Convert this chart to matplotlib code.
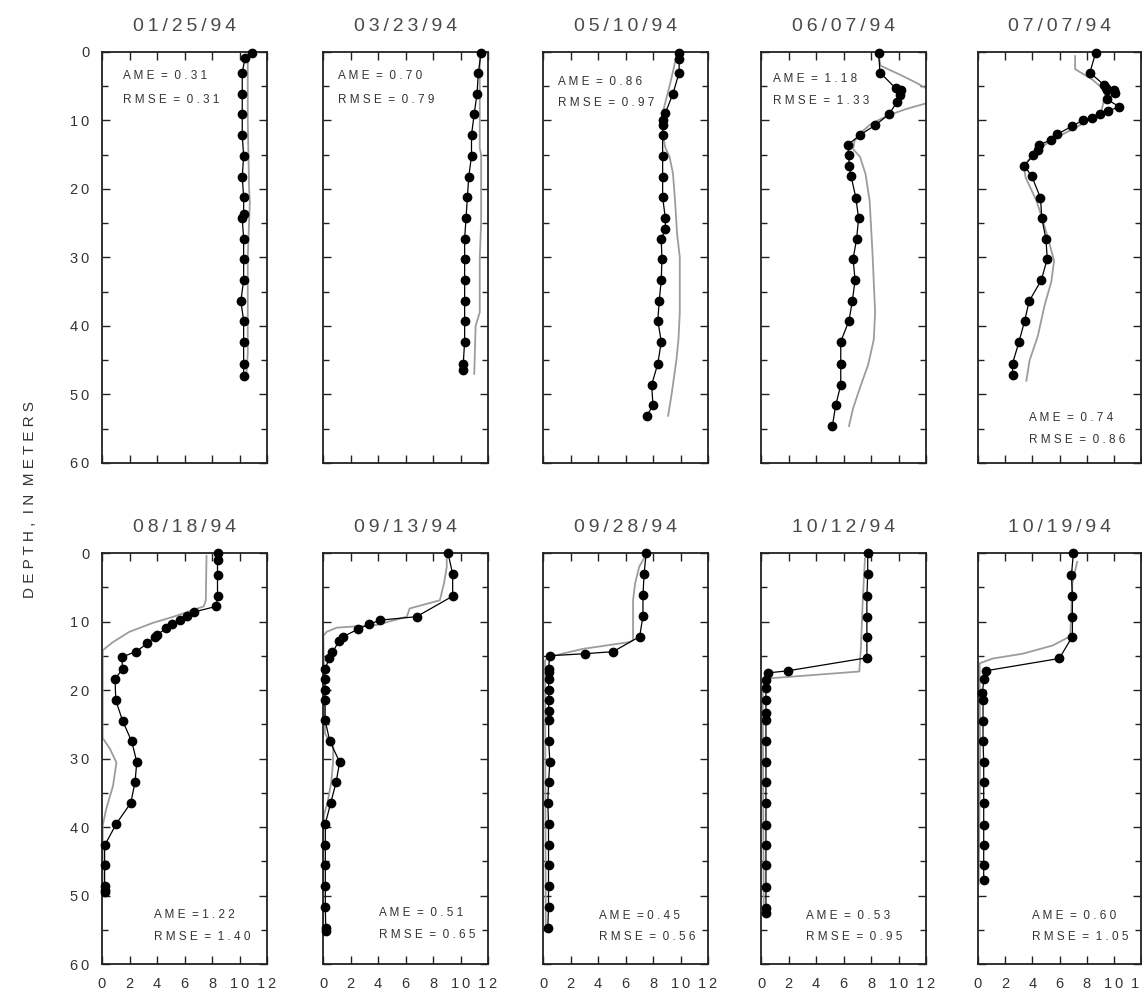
import matplotlib
matplotlib.use("Agg")
import matplotlib.pyplot as plt
import matplotlib.transforms as mtransforms
from matplotlib import font_manager

# Sampling dates, one panel each
DATES = ["01/25/94", "03/23/94", "05/10/94", "06/07/94", "07/07/94",
         "08/18/94", "09/13/94", "09/28/94", "10/12/94", "10/19/94"]
AME = [0.31, 0.70, 0.86, 1.18, 0.74, 1.22, 0.51, 0.45, 0.53, 0.60]
RMSE = [0.31, 0.79, 0.97, 1.33, 0.86, 1.40, 0.65, 0.56, 0.95, 1.05]
AME_SEP = [" = ", " = ", " = ", " = ", " = ", " =", " = ", " =", " = ", " = "]

# Measured profiles (depth m, temperature deg C)
OBS_0125_D = [0.1, 0.9, 3.0, 6.2, 9.0, 12.1, 15.2, 18.2, 21.2, 23.6, 24.3, 27.3,
              30.2, 33.3, 36.4, 39.2, 42.3, 45.5, 47.3]
OBS_0125_T = [10.9, 10.4, 10.2, 10.2, 10.2, 10.2, 10.3, 10.2, 10.3, 10.3, 10.2, 10.3,
              10.3, 10.3, 10.1, 10.3, 10.3, 10.3, 10.3]
OBS_0323_D = [0.1, 3.0, 6.1, 9.0, 12.1, 15.2, 18.2, 21.2, 24.3, 27.3, 30.2, 33.3,
              36.4, 39.2, 42.3, 45.5, 46.4]
OBS_0323_T = [11.5, 11.3, 11.2, 11.0, 10.8, 10.8, 10.6, 10.5, 10.4, 10.3, 10.3, 10.3,
              10.3, 10.3, 10.3, 10.2, 10.2]
OBS_0510_D = [0.1, 1.0, 3.0, 6.1, 8.9, 9.9, 10.6, 12.1, 15.2, 18.2, 21.2, 24.3, 25.9,
              27.3, 30.2, 33.3, 36.4, 39.2, 42.3, 45.5, 48.6, 51.6, 53.1]
OBS_0510_T = [9.9, 9.9, 9.9, 9.45, 8.9, 8.7, 8.7, 8.7, 8.7, 8.7, 8.7, 8.9, 8.9,
              8.6, 8.65, 8.6, 8.45, 8.35, 8.6, 8.35, 7.9, 8.0, 7.55]
OBS_0607_D = [0.2, 3.0, 5.3, 5.6, 6.3, 7.3, 9.1, 10.7, 12.1, 13.6, 15.1, 16.6, 18.1,
              21.3, 24.3, 27.3, 30.2, 33.3, 36.4, 39.2, 42.3, 45.5, 48.6, 51.6, 54.6]
OBS_0607_T = [8.56, 8.65, 9.8, 10.2, 10.1, 9.9, 9.3, 8.3, 7.2, 6.3, 6.4, 6.4, 6.55,
              6.9, 7.1, 6.95, 6.7, 6.84, 6.64, 6.4, 5.8, 5.8, 5.8, 5.43, 5.19]
OBS_0707_D = [0.1, 3.0, 4.8, 5.2, 5.6, 5.6, 6.0, 6.9, 8.0, 8.6, 9.1, 9.7, 10.0, 10.8,
              12.0, 12.8, 13.6, 14.3, 15.1, 16.6, 18.1, 21.3, 24.3, 27.3, 30.2, 33.3,
              36.4, 39.2, 42.3, 45.5, 47.2]
OBS_0707_T = [8.66, 8.24, 9.27, 9.4, 9.5, 10.0, 10.07, 9.5, 10.4, 9.6, 9.0, 8.37, 7.7,
              6.95, 5.85, 5.37, 4.5, 4.4, 4.07, 3.4, 3.95, 4.6, 4.7, 5.0, 5.1, 4.66,
              3.76, 3.44, 3.02, 2.54, 2.54]
OBS_0818_D = [0.05, 1.0, 3.2, 6.3, 7.8, 8.6, 9.2, 9.8, 10.4, 11.0, 12.0, 12.2, 13.2,
              14.4, 15.2, 16.9, 18.4, 21.5, 24.5, 27.5, 30.5, 33.5, 36.5, 39.5, 42.7,
              45.6, 48.6, 49.2, 49.5]
OBS_0818_T = [8.4, 8.4, 8.4, 8.4, 8.3, 6.7, 6.15, 5.7, 5.1, 4.65, 3.98, 3.85, 3.3,
              2.47, 1.43, 1.5, 0.95, 1.0, 1.5, 2.16, 2.53, 2.4, 2.09, 1.05, 0.19,
              0.19, 0.19, 0.19, 0.19]
OBS_0913_D = [0.05, 3.1, 6.3, 9.3, 9.8, 10.4, 11.1, 12.2, 12.8, 14.5, 15.4, 16.9, 18.4,
              20.0, 21.5, 24.4, 27.5, 30.5, 33.5, 36.5, 39.5, 42.7, 45.6, 48.6, 51.7,
              54.8, 55.2]
OBS_0913_T = [9.1, 9.43, 9.43, 6.8, 4.15, 3.37, 2.57, 1.48, 1.19, 0.68, 0.46, 0.15, 0.15,
              0.15, 0.15, 0.15, 0.5, 1.21, 0.95, 0.56, 0.17, 0.17, 0.17, 0.17, 0.17,
              0.2, 0.2]
OBS_0928_D = [0.05, 3.1, 6.2, 9.2, 12.2, 14.4, 14.7, 15.0, 16.9, 17.4, 18.4, 20.0, 21.5,
              23.0, 24.4, 27.5, 30.5, 33.5, 36.5, 39.5, 42.7, 45.6, 48.6, 51.7, 54.7]
OBS_0928_T = [7.5, 7.35, 7.27, 7.27, 7.03, 5.1, 3.08, 0.48, 0.41, 0.41, 0.41, 0.41, 0.41,
              0.41, 0.41, 0.41, 0.5, 0.4, 0.35, 0.4, 0.4, 0.4, 0.4, 0.4, 0.35]
OBS_1012_D = [0.05, 3.1, 6.3, 9.3, 12.2, 15.3, 17.2, 17.5, 18.6, 19.7, 21.5, 23.3, 24.4,
              27.5, 30.5, 33.5, 36.5, 39.7, 42.7, 45.6, 48.7, 51.8, 52.5]
OBS_1012_T = [7.76, 7.76, 7.7, 7.7, 7.7, 7.7, 1.94, 0.53, 0.36, 0.36, 0.36, 0.36, 0.36,
              0.36, 0.36, 0.36, 0.36, 0.36, 0.36, 0.36, 0.36, 0.36, 0.36]
OBS_1019_D = [0.05, 3.2, 6.3, 9.3, 12.2, 15.4, 17.2, 18.4, 20.4, 21.5, 24.5, 27.5, 30.5,
              33.5, 36.5, 39.7, 42.7, 45.6, 47.8]
OBS_1019_T = [7.02, 6.88, 6.95, 6.95, 6.95, 5.98, 0.56, 0.44, 0.32, 0.37, 0.37, 0.37,
              0.42, 0.42, 0.42, 0.42, 0.42, 0.42, 0.42]

# Simulated profiles
SIM_0125_D = [0.8, 10.0, 20.0, 22.0, 30.0, 44.0, 47.0]
SIM_0125_T = [10.6, 10.6, 10.7, 10.75, 10.6, 10.6, 10.5]
SIM_0323_D = [0.0, 14.0, 15.0, 25.0, 30.0, 38.0, 40.0, 47.0]
SIM_0323_T = [11.4, 11.4, 11.5, 11.5, 11.4, 11.4, 11.1, 11.0]
SIM_0510_D = [0.5, 2.0, 4.6, 8.5, 12.0, 14.0, 15.3, 17.7, 21.6, 26.5, 30.0, 38.0, 42.0,
              45.0, 50.0, 53.1]
SIM_0510_T = [9.7, 9.55, 9.25, 8.75, 8.7, 8.9, 9.2, 9.45, 9.6, 9.75, 9.95, 9.95, 9.85,
              9.7, 9.35, 9.1]
SIM_0607_D = [0.0, 2.0, 3.5, 4.5, 5.3, 6.3, 7.5, 8.3, 9.2, 10.5, 11.7, 13.0, 14.2, 15.3,
              17.8, 21.7, 29.0, 38.0, 42.0, 45.6, 49.0, 52.0, 54.6]
SIM_0607_T = [8.5, 8.7, 10.3, 11.3, 12.0, 12.6, 12.0, 10.6, 9.3, 8.0, 7.3, 6.8, 6.7, 7.2,
              7.6, 7.9, 8.1, 8.3, 8.2, 7.8, 7.2, 6.7, 6.4]
SIM_0707_D = [0.6, 2.5, 4.0, 5.2, 6.0, 8.5, 9.7, 11.0, 12.8, 14.1, 15.9, 16.9, 18.3,
              21.7, 24.5, 27.5, 30.5, 33.5, 37.0, 41.5, 45.0, 48.0]
SIM_0707_T = [7.15, 7.15, 8.4, 9.1, 9.4, 9.1, 8.4, 7.2, 5.5, 4.5, 3.66, 3.4, 3.5,
              4.3, 4.76, 5.2, 5.6, 5.4, 4.9, 4.4, 3.8, 3.56]
SIM_0818_D = [0.4, 6.9, 7.8, 8.3, 9.3, 10.2, 11.5, 13.0, 14.2, 27.0, 28.6, 30.6, 34.0,
              37.4, 39.8, 49.5]
SIM_0818_T = [7.6, 7.55, 7.4, 6.65, 5.2, 3.7, 2.0, 0.8, 0.05, 0.05, 0.58, 1.05, 0.8,
              0.3, 0.05, 0.05]
SIM_0913_D = [0.4, 2.0, 4.4, 6.9, 8.1, 9.3, 10.5, 10.9, 11.5, 12.1, 26.4, 28.3, 30.6,
              33.5, 36.4, 38.3, 40.0, 56.0]
SIM_0913_T = [9.0, 9.0, 8.8, 8.5, 6.3, 6.1, 3.9, 1.0, 0.27, 0.02, 0.15, 0.75, 0.73,
              0.6, 0.33, 0.06, 0.02, 0.02]
SIM_0928_D = [0.4, 2.0, 4.4, 6.9, 12.7, 13.0, 14.0, 15.2, 15.7, 55.0]
SIM_0928_T = [7.45, 7.0, 6.7, 6.55, 6.55, 6.3, 2.9, 0.36, 0.15, 0.2]
SIM_1012_D = [0.8, 6.9, 13.7, 15.7, 17.3, 18.3, 18.8, 19.6, 52.5]
SIM_1012_T = [7.56, 7.4, 7.27, 7.2, 7.15, 0.6, 0.24, 0.12, 0.2]
SIM_1019_D = [1.3, 4.4, 11.8, 12.2, 13.5, 14.7, 15.4, 16.1, 30.0, 48.3]
SIM_1019_T = [7.3, 6.95, 6.8, 6.75, 5.5, 3.3, 1.1, 0.12, 0.15, 0.05]

OBS = [(OBS_0125_D, OBS_0125_T), (OBS_0323_D, OBS_0323_T), (OBS_0510_D, OBS_0510_T),
       (OBS_0607_D, OBS_0607_T), (OBS_0707_D, OBS_0707_T), (OBS_0818_D, OBS_0818_T),
       (OBS_0913_D, OBS_0913_T), (OBS_0928_D, OBS_0928_T), (OBS_1012_D, OBS_1012_T),
       (OBS_1019_D, OBS_1019_T)]
SIM = [(SIM_0125_D, SIM_0125_T), (SIM_0323_D, SIM_0323_T), (SIM_0510_D, SIM_0510_T),
       (SIM_0607_D, SIM_0607_T), (SIM_0707_D, SIM_0707_T), (SIM_0818_D, SIM_0818_T),
       (SIM_0913_D, SIM_0913_T), (SIM_0928_D, SIM_0928_T), (SIM_1012_D, SIM_1012_T),
       (SIM_1019_D, SIM_1019_T)]

# where the error statistics sit: (axes-fraction x, depth of AME line, depth of RMSE line)
STAT_POS = [(0.13, 3.5, 7.0), (0.09, 3.5, 7.0), (0.09, 4.4, 7.5), (0.07, 4.0, 7.2),
            (0.31, 53.4, 56.6), (0.315, 52.8, 56.1), (0.34, 52.5, 55.8),
            (0.34, 53.0, 56.1), (0.27, 53.0, 56.1), (0.33, 53.0, 56.1)]


def pick_font(names):
    for name in names:
        try:
            font_manager.findfont(font_manager.FontProperties(family=name),
                                  fallback_to_default=False)
            return name
        except ValueError:
            continue
    return "DejaVu Sans"


FONT = pick_font(["Liberation Sans Narrow", "Liberation Sans"])
plt.rcParams["font.family"] = [FONT, "DejaVu Sans"]

THIN = "\u2009"


def spaced(s, sep=" "):
    # wide tracking, as in the typeset figure
    return sep.join(s).replace(sep + " " + sep, "  ")


W, H = 1142, 997
LEFTS = [102, 323, 543, 761, 978]
WIDTHS = [165, 165, 165, 165, 163]
TOPS = [52, 553]
PANEL_H = 411
TEXT = "#333333"

fig = plt.figure(figsize=(W / 100, H / 100), dpi=100)

for i, date in enumerate(DATES):
    row, col = divmod(i, 5)
    ax = fig.add_axes([LEFTS[col] / W, 1 - (TOPS[row] + PANEL_H) / H,
                       WIDTHS[col] / W, PANEL_H / H])
    sd, st = SIM[i]
    od, ot = OBS[i]
    ax.plot(st, sd, color="#9c9c9c", linewidth=1.3, zorder=2)
    ax.plot(ot, od, color="black", linewidth=0.9, marker="o", markersize=6,
            zorder=3, clip_on=False)

    ax.set_xlim(0, 12)
    ax.set_ylim(60, 0)
    ax.set_xticks(range(0, 13, 2))
    ax.set_yticks(range(0, 61, 10))
    ax.set_yticks(range(5, 60, 10), minor=True)
    ax.set_xticklabels([spaced(str(v), THIN) for v in range(0, 13, 2)])
    ax.set_yticklabels([spaced(str(v), THIN) for v in range(0, 61, 10)])
    ax.tick_params(which="both", direction="in", top=True, right=True,
                   width=1.0, color="#222222", labelsize=10.5, labelcolor=TEXT,
                   labelleft=(col == 0), labelbottom=(row == 1))
    ax.tick_params(which="major", length=6)
    ax.tick_params(which="minor", length=4.5)
    ax.tick_params(axis="y", pad=9)
    ax.tick_params(axis="x", pad=9)
    for sp in ax.spines.values():
        sp.set_linewidth(1.3)
        sp.set_color("#222222")

    ax.set_title(spaced(date, THIN), fontsize=14, color="#4a4a4a", pad=15)

    tx, d_ame, d_rmse = STAT_POS[i]
    trans = mtransforms.blended_transform_factory(ax.transAxes, ax.transData)
    ax.text(tx, d_ame, spaced(f"AME{AME_SEP[i]}{AME[i]:.2f}"), transform=trans,
            fontsize=8.5, color=TEXT, va="center", ha="left")
    ax.text(tx, d_rmse, spaced(f"RMSE = {RMSE[i]:.2f}"), transform=trans,
            fontsize=8.5, color=TEXT, va="center", ha="left")

fig.text(30 / W, 1 - 500 / H, spaced("DEPTH, IN METERS"), rotation=90,
         ha="center", va="center", fontsize=11, color=TEXT)

fig.savefig("out.png", dpi=100)
